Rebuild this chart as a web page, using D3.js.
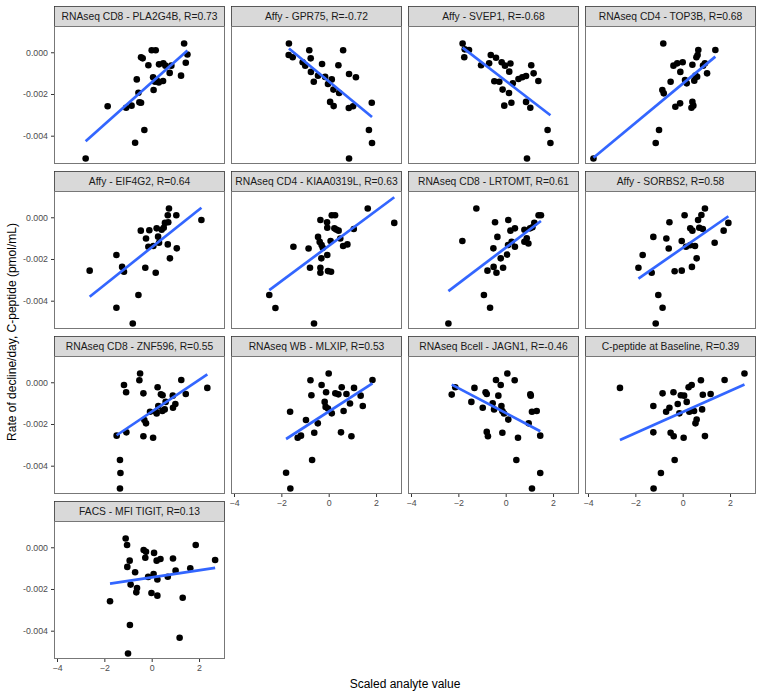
<!DOCTYPE html>
<html><head><meta charset="utf-8">
<script src="https://cdn.jsdelivr.net/npm/d3@7"></script>
<style>body{margin:0;background:#fff}svg{display:block;font-family:"Liberation Sans",Arial,sans-serif}</style>
</head><body><svg id="c" width="763" height="698"></svg>
<script>
const titles = ["RNAseq CD8 - PLA2G4B, R=0.73","Affy - GPR75, R=-0.72","Affy - SVEP1, R=-0.68","RNAseq CD4 - TOP3B, R=0.68",
"Affy - EIF4G2, R=0.64","RNAseq CD4 - KIAA0319L, R=0.63","RNAseq CD8 - LRTOMT, R=0.61","Affy - SORBS2, R=0.58",
"RNAseq CD8 - ZNF596, R=0.55","RNAseq WB - MLXIP, R=0.53","RNAseq Bcell - JAGN1, R=-0.46","C-peptide at Baseline, R=0.39",
"FACS - MFI TIGIT, R=0.13"];
const xTicks = [-4,-2,0,2];
const yTicks = [0,-0.002,-0.004];
const yTickLabels = ["0.000","-0.002","-0.004"];

const ptsPLA2G4B = [[-2.79,-0.00509],[-1.86,-0.00259],[-1.08,-0.00266],[-0.85,-0.00256],[-0.70,-0.00434],[-0.63,-0.0013],[-0.56,-0.00194],[-0.52,-0.0024],[-0.45,-0.00242],[-0.31,-0.00373],[-0.45,-0.00024],[-0.38,-0.00029],[-0.14,-0.00062],[0.0,0.0001],[0.17,0.0001],[0.06,-0.0012],[0.08,-0.00181],[0.14,-0.00141],[0.21,-0.00133],[0.31,-0.00058],[0.49,-0.00053],[0.48,-0.00138],[0.58,-0.00064],[0.76,-0.00099],[0.83,-0.00064],[1.24,-0.00112],[1.37,0.00042],[1.44,-0.0005],[1.51,-0.00011],[0.30,-0.00145]];
const ptsGPR75 = [[-1.68,0.00042],[-1.69,-0.00013],[-1.52,-0.00024],[-0.82,0.0001],[-0.76,-0.00029],[0.61,0.0001],[-1.10,-0.00048],[-0.99,-0.00064],[-0.28,-0.00056],[-0.75,-0.00094],[0.41,-0.00062],[-0.63,-0.00141],[-0.45,-0.00112],[0.13,-0.0013],[-0.03,-0.00152],[0.20,-0.00179],[0.44,-0.00195],[0.86,-0.00104],[1.15,-0.0012],[0.06,-0.00238],[0.21,-0.00258],[0.85,-0.00267],[1.03,-0.00259],[1.82,-0.00242],[1.70,-0.00373],[1.83,-0.00435],[0.86,-0.00509],[-0.15,-0.00118]];
const ptsSVEP1 = [[-1.82,0.00042],[-1.73,0.00014],[-1.55,0.00011],[-1.75,-0.00024],[-1.04,-0.00062],[-0.70,-0.00053],[-0.63,-0.00013],[-0.41,-0.00026],[-0.17,-0.00048],[-0.03,-0.00064],[0.20,-0.00054],[0.15,-0.00093],[-0.48,-0.00139],[-0.27,-0.00141],[0.30,-0.00149],[0.54,-0.00128],[0.70,-0.0012],[0.86,-0.00114],[1.08,-0.00062],[1.18,-0.00101],[1.38,-0.00138],[-0.13,-0.00179],[0.14,-0.00195],[-0.06,-0.00256],[0.24,-0.00242],[0.86,-0.00238],[1.04,-0.00266],[1.77,-0.00373],[1.89,-0.00435],[0.90,-0.00509]];
const ptsTOP3B = [[-3.77,-0.00509],[-1.14,-0.00435],[-1.00,-0.00373],[-0.82,0.00042],[-0.86,-0.00181],[-0.80,-0.00197],[-0.51,-0.00141],[-0.39,-0.00064],[-0.23,-0.00053],[0.0,-0.00048],[-0.10,-0.00094],[-0.31,-0.00261],[-0.11,-0.00245],[0.17,-0.00149],[0.41,-0.0006],[0.41,-0.00238],[0.37,-0.00266],[0.45,-0.00256],[0.54,-0.00112],[0.49,-0.00136],[0.61,-0.00117],[0.58,-0.00024],[0.66,0.00011],[0.63,-0.00013],[0.86,-0.00064],[0.94,-0.00053],[1.03,-0.00101],[1.38,0.00011],[0.10,-0.00133]];
const ptsEIF4G2 = [[-2.62,-0.00256],[-1.49,-0.00181],[-1.49,-0.00434],[-1.25,-0.00238],[-1.17,-0.00261],[-0.80,-0.00509],[-0.56,-0.00373],[-0.46,-0.00064],[-0.27,-0.00242],[-0.24,-0.00102],[-0.10,-0.00062],[-0.14,-0.00141],[0.07,-0.00138],[0.17,-0.00266],[0.21,-0.00053],[0.27,-0.00093],[0.31,-0.00122],[0.42,-0.0006],[0.51,-0.0005],[0.56,-0.00027],[0.70,-0.00024],[0.68,0.0001],[0.73,0.00042],[0.68,-0.0013],[0.77,-0.00197],[1.04,0.0001],[1.06,-0.00149],[2.10,-0.00013]];
const ptsKIAA0319L = [[-2.51,-0.00373],[-2.25,-0.00435],[-1.49,-0.00141],[-0.85,-0.0015],[-0.79,-0.00242],[-0.62,-0.00509],[-0.45,-0.00094],[-0.35,-0.00013],[-0.38,-0.00118],[-0.35,-0.00242],[-0.35,-0.00266],[-0.30,-0.00133],[-0.31,-0.00197],[-0.25,-0.00146],[-0.07,-0.00024],[-0.06,-0.0005],[-0.06,-0.00181],[-0.03,-0.00258],[0.10,-0.00261],[0.13,0.0001],[0.27,0.0001],[0.08,-0.00114],[0.24,-0.00053],[0.32,-0.00059],[0.42,-0.00064],[0.49,-0.00102],[0.61,-0.00138],[0.79,-0.0013],[1.06,-0.00056],[1.65,0.00042],[2.77,-0.00027]];
const ptsLRTOMT = [[-2.42,-0.00509],[-1.83,-0.00114],[-1.24,0.00042],[-0.92,-0.00373],[-0.66,-0.00434],[-0.77,-0.00256],[-0.51,-0.00238],[-0.39,-0.00266],[-0.52,-0.00149],[-0.45,-0.00024],[-0.35,-0.00094],[-0.21,-0.00197],[-0.11,-0.00242],[0.06,-0.00179],[0.11,-0.00013],[0.20,-0.00064],[0.10,-0.00133],[0.25,-0.00117],[0.39,-0.00053],[0.39,-0.00141],[0.79,-0.0006],[0.79,-0.00117],[0.89,-0.00101],[0.96,-0.00126],[1.03,-0.00053],[1.13,-0.00048],[1.21,-0.00027],[1.39,0.0001],[1.49,0.0001]];
const ptsSORBS2 = [[-1.87,-0.00242],[-1.69,-0.00181],[-1.31,-0.00266],[-1.24,-0.00094],[-1.03,-0.00373],[-0.85,-0.00434],[-1.14,-0.00509],[-0.69,-0.00102],[-0.59,-0.0015],[-0.56,-0.00024],[-0.34,-0.00259],[-0.04,-0.00256],[-0.04,-0.00114],[0.08,0.0001],[0.14,-0.00141],[0.31,-0.00134],[0.32,-0.00053],[0.41,-0.00064],[0.39,-0.00238],[0.52,-0.00138],[0.59,-0.00197],[0.65,-0.00013],[0.70,-0.0005],[0.79,0.00011],[0.85,-0.00056],[0.94,0.00042],[1.35,-0.00122],[1.73,-0.00064],[1.93,-0.00027]];
const ptsZNF596 = [[-1.48,-0.00256],[-1.34,-0.00373],[-1.32,-0.00435],[-1.34,-0.00509],[-1.17,-0.00013],[-1.08,-0.00048],[-1.07,-0.0024],[-0.49,0.00042],[-0.52,0.0001],[-0.35,-0.00053],[-0.35,-0.00259],[-0.31,-0.00181],[-0.24,-0.00197],[-0.07,-0.00141],[0.06,-0.00266],[0.18,-0.00141],[0.21,-0.0015],[0.25,-0.00024],[0.28,-0.00114],[0.39,-0.00058],[0.46,-0.00062],[0.45,-0.00138],[0.55,-0.0013],[0.59,-0.00094],[0.89,-0.00064],[0.90,-0.00122],[1.00,-0.00104],[1.25,0.00011],[1.44,-0.00056],[2.35,-0.00027]];
const ptsMLXIP = [[-1.80,-0.00434],[-1.63,-0.00141],[-1.62,-0.00509],[-1.31,-0.00266],[-1.17,-0.00256],[-0.96,-0.00181],[-0.77,0.0001],[-0.73,-0.00062],[-0.70,-0.00373],[-0.61,-0.00242],[-0.46,-0.00197],[-0.30,-0.00013],[-0.17,-0.00094],[-0.11,-0.00048],[-0.13,-0.00118],[-0.03,-0.00126],[0.0,0.00042],[0.13,-0.00149],[0.28,-0.00053],[0.41,-0.00058],[0.55,-0.00024],[0.52,-0.0024],[0.63,-0.00138],[0.75,-0.00056],[0.90,-0.00102],[0.96,-0.00259],[1.07,-0.00027],[1.35,-0.00064],[1.44,-0.00114],[1.85,0.00011]];
const ptsJAGN1 = [[-2.28,-0.00059],[-2.13,-0.00024],[-1.45,-0.00094],[-1.32,-0.00027],[-0.97,-0.00122],[-0.85,-0.00048],[-0.80,-0.00056],[-0.80,-0.00238],[-0.75,-0.00259],[-0.55,-0.00101],[-0.49,-0.0013],[-0.41,0.00011],[-0.31,-0.00064],[-0.21,-0.00013],[-0.18,-0.00114],[-0.14,-0.00138],[-0.14,-0.00242],[-0.07,-0.0015],[0.07,0.00042],[0.11,-0.00179],[0.38,0.0001],[0.45,-0.00373],[0.52,-0.00266],[0.97,-0.00197],[1.04,-0.00058],[1.06,-0.00064],[1.11,-0.00141],[1.11,-0.00509],[1.31,-0.00138],[1.46,-0.00256],[1.46,-0.00435]];
const ptsCPEP = [[-2.65,-0.00027],[-1.24,-0.00114],[-1.24,-0.0024],[-1.23,-0.00509],[-0.92,-0.00435],[-0.85,-0.00053],[-0.70,-0.00141],[-0.56,-0.00122],[-0.51,-0.00242],[-0.39,-0.00048],[-0.38,-0.00259],[-0.34,-0.00373],[-0.21,-0.00104],[-0.14,-0.00149],[-0.08,-0.00062],[0.06,-0.00064],[0.04,-0.00266],[0.17,-0.00094],[0.25,-0.00024],[0.28,-0.00141],[0.38,-0.00013],[0.48,-0.00138],[0.54,-0.00197],[0.59,-0.00179],[0.77,0.0001],[0.82,-0.0013],[0.85,-0.0006],[0.94,-0.00258],[1.18,-0.00056],[1.77,0.00011],[2.61,0.00042]];
const ptsTIGIT = [[-1.10,0.00042],[-1.04,0.00011],[-0.34,-0.00013],[-0.24,-0.00022],[0.10,-0.00027],[1.86,0.00011],[-0.93,-0.00064],[-0.27,-0.0005],[0.21,-0.00064],[0.37,-0.00056],[0.90,-0.00054],[2.68,-0.00061],[-1.03,-0.00094],[-0.70,-0.0012],[1.01,-0.00112],[1.63,-0.00101],[-0.15,-0.00142],[0.08,-0.00128],[0.24,-0.00154],[0.68,-0.00141],[-0.89,-0.00179],[-0.62,-0.00195],[-1.76,-0.00259],[-0.65,-0.00216],[-0.01,-0.00219],[0.24,-0.00232],[1.31,-0.00242],[-0.92,-0.00373],[1.18,-0.00434],[-1.00,-0.00509]];

// fitted (lm) line end points, one entry per panel
const fitX0 = [-2.79,-1.68,-1.82,-3.77,-2.62,-2.51,-2.42,-1.87,-1.48,-1.80,-2.28,-2.65,-1.76];
const fitY0 = [-0.00427,0.00018,0.00022,-0.00506,-0.00381,-0.00349,-0.00354,-0.00294,-0.00254,-0.00272,-0.00011,-0.00277,-0.00174];
const fitX1 = [1.51,1.83,1.89,1.38,2.10,2.77,1.49,1.93,2.35,1.85,1.46,2.61,2.68];
const fitY1 = [0.00008,-0.0031,-0.00302,-0.00021,0.00046,0.00096,-0.00018,0.00005,0.00038,-0.00005,-0.00235,-0.00011,-0.00099];

const panelPoints = [ptsPLA2G4B,ptsGPR75,ptsSVEP1,ptsTOP3B,ptsEIF4G2,ptsKIAA0319L,ptsLRTOMT,ptsSORBS2,ptsZNF596,ptsMLXIP,ptsJAGN1,ptsCPEP,ptsTIGIT];

const svg = d3.select("#c");
const W = 171, PH = 138, SH = 20, colStep = 177, rowStep = 165, left0 = 54, top0 = 6;
const x = d3.scaleLinear().domain([-4.127, 3.097]).range([0, W]);
const y = d3.scaleLinear().domain([-0.005357, 0.00126]).range([PH, 0]);

panelPoints.forEach((pts,i)=>{
  const r = Math.floor(i/4), c = i%4;
  const gx = left0 + c*colStep, gy = top0 + r*rowStep;
  const g = svg.append("g").attr("transform",`translate(${gx},${gy})`);
  g.append("rect").attr("x",0.5).attr("y",0.5).attr("width",W-1).attr("height",SH)
    .attr("fill","#d9d9d9").attr("stroke","#333").attr("stroke-width",0.8);
  g.append("text").attr("x",W/2).attr("y",SH/2+4).attr("text-anchor","middle")
    .attr("font-size","10.3px").attr("fill","#1a1a1a").text(titles[i]);
  const p = g.append("g").attr("transform",`translate(0,${SH})`);
  p.append("rect").attr("x",0.5).attr("y",0.5).attr("width",W-1).attr("height",PH-1)
    .attr("fill","#fff").attr("stroke","#777").attr("stroke-width",1);
  p.selectAll("circle").data(pts).join("circle")
    .attr("cx",d=>x(d[0])).attr("cy",d=>y(d[1])).attr("r",3.3).attr("fill","#000");
  p.append("line").attr("x1",x(fitX0[i])).attr("y1",y(fitY0[i])).attr("x2",x(fitX1[i])).attr("y2",y(fitY1[i]))
    .attr("stroke","#3366ff").attr("stroke-width",2.7);
  if (c===0){
    const ya = p.append("g").call(d3.axisLeft(y).tickValues(yTicks).tickSize(3).tickFormat((d,k)=>yTickLabels[k]));
    ya.select(".domain").remove();
    ya.selectAll("line").attr("stroke","#333");
    ya.selectAll("text").attr("fill","#4d4d4d").attr("font-size","8.8px").attr("font-family","Liberation Sans, Arial, sans-serif");
  }
  const isBottom = (i>=9);
  if (isBottom){
    const xa = p.append("g").attr("transform",`translate(0,${PH})`).call(d3.axisBottom(x).tickValues(xTicks).tickSize(3).tickFormat(d3.format("d")));
    xa.select(".domain").remove();
    xa.selectAll("line").attr("stroke","#333");
    xa.selectAll("text").attr("fill","#4d4d4d").attr("font-size","8.8px").attr("font-family","Liberation Sans, Arial, sans-serif");
  }
});

svg.append("text").attr("x",405).attr("y",688).attr("text-anchor","middle").attr("font-size","12px").attr("fill","#000").text("Scaled analyte value");
svg.append("text").attr("transform","translate(16,332) rotate(-90)").attr("text-anchor","middle").attr("font-size","12px").attr("fill","#000").text("Rate of decline/day, C-peptide (pmol/mL)");
</script></body></html>
